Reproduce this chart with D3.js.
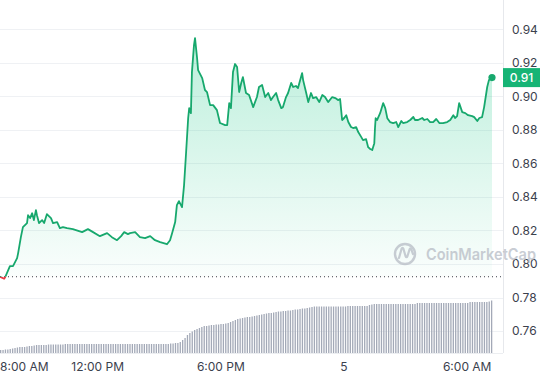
<!DOCTYPE html>
<html><head><meta charset="utf-8">
<script src="https://cdn.jsdelivr.net/npm/d3@7"></script>
<style>
html,body{margin:0;padding:0;background:#fff;}
svg{display:block;font-family:Inter,"Noto Sans",sans-serif;}
</style></head><body>
<svg id="chart" width="545" height="380"></svg>
<script>
// ---- data ----
const priceTimes = ["07:16","07:28","07:31","07:45","07:54","08:06","08:09","08:17","08:23","08:35","08:38","08:44","08:50","08:55","09:01","09:04","09:10","09:19","09:25","09:33","09:45","09:51","10:03","10:11","10:20","10:32","10:49","11:16","11:33","11:48","12:08","12:29","12:43","12:58","13:10","13:19","13:30","13:36","13:51","14:05","14:20","14:35","14:49","15:04","15:24","15:33","15:39","15:48","15:53","15:59","16:08","16:14","16:20","16:26","16:29","16:34","16:37","16:43","16:46","16:52","16:55","17:07","17:15","17:21","17:30","17:39","17:50","17:59","18:14","18:20","18:26","18:31","18:37","18:43","18:49","18:55","19:01","19:06","19:15","19:24","19:36","19:47","19:53","20:02","20:11","20:20","20:28","20:34","20:43","20:49","20:58","21:03","21:12","21:18","21:27","21:33","21:41","21:47","21:59","22:02","22:11","22:17","22:25","22:31","22:40","22:49","22:58","23:06","23:15","23:27","23:36","23:44","23:50","23:56","00:02","00:08","00:14","00:22","00:28","00:37","00:43","00:52","00:57","01:06","01:12","01:18","01:24","01:30","01:32","01:34","01:38","01:47","01:56","02:02","02:08","02:16","02:25","02:34","02:40","02:49","02:54","03:06","03:15","03:24","03:29","03:38","03:50","03:56","04:05","04:13","04:22","04:31","04:40","04:51","05:03","05:12","05:21","05:26","05:32","05:38","05:47","05:56","06:04","06:16","06:22","06:31","06:37","06:45","06:51","07:00","07:05","07:11","07:14"];
const prices = [0.7924,0.7912,0.7921,0.7987,0.7987,0.8035,0.8065,0.8160,0.8220,0.8244,0.8291,0.8274,0.8303,0.8262,0.8321,0.8291,0.8244,0.8262,0.8244,0.8297,0.8274,0.8244,0.8250,0.8214,0.8220,0.8214,0.8208,0.8190,0.8208,0.8190,0.8166,0.8184,0.8160,0.8142,0.8166,0.8190,0.8178,0.8184,0.8190,0.8160,0.8154,0.8166,0.8142,0.8130,0.8118,0.8142,0.8184,0.8250,0.8351,0.8375,0.8339,0.8471,0.8668,0.8871,0.8930,0.8900,0.9145,0.9306,0.9348,0.9229,0.9157,0.9109,0.9038,0.9026,0.8948,0.8948,0.8918,0.8841,0.8829,0.8829,0.8960,0.8930,0.9145,0.9193,0.9175,0.9026,0.9080,0.9115,0.9020,0.9008,0.8936,0.8996,0.9056,0.9068,0.8996,0.9020,0.8978,0.8996,0.9020,0.8978,0.8930,0.8936,0.8996,0.9020,0.9080,0.9056,0.9062,0.9050,0.9139,0.9097,0.9020,0.8966,0.9020,0.8990,0.8996,0.8966,0.9008,0.8996,0.8966,0.8996,0.8990,0.8978,0.8984,0.8859,0.8871,0.8888,0.8847,0.8817,0.8811,0.8817,0.8787,0.8757,0.8739,0.8745,0.8697,0.8686,0.8680,0.8721,0.8811,0.8870,0.8859,0.8900,0.8960,0.8930,0.8870,0.8847,0.8841,0.8847,0.8817,0.8853,0.8841,0.8847,0.8859,0.8877,0.8859,0.8859,0.8871,0.8859,0.8865,0.8847,0.8847,0.8865,0.8841,0.8841,0.8847,0.8859,0.8888,0.8871,0.8882,0.8960,0.8906,0.8900,0.8888,0.8882,0.8876,0.8853,0.8871,0.8876,0.8936,0.9056,0.9097,0.9109,0.9112];
const volumeStart = "07:16";
const volumeIntervalMin = 7;
const volumes = [6,6,7,7,8,9,10,11,12,12,12,13,14,14,15,16,16,16,16,16,17,17,17,17,17,17,17,18,
18,18,18,18,18,18,18,18,18,18,18,18,18,18,18,18,18,18,18,18,18,18,18,18,18,18,18,18,18,18,18,18,18,18,18,18,18,18,18,18,18,18,18,
19,19,20,20,22,26,30,36,40,43,46,48,50,52,54,54,55,56,56,57,57,58,58,59,60,62,64,66,68,69,70,71,72,72,73,74,75,76,77,78,79,80,80,81,82,83,83,84,84,85,85,86,87,87,88,89,89,90,91,92,93,
93,93,93,93,93,93,93,93,93,93,93,93,93,
94,94,94,94,94,94,94,94,94,
96,97,
98,98,98,98,98,98,98,98,98,98,98,98,98,98,98,98,98,98,
100,100,100,100,100,100,100,100,100,100,100,100,100,100,100,100,100,100,100,100,100,100,
102,102,102,102,102,102,102,102,
103,105];
const yTicks = [0.76,0.78,0.80,0.82,0.84,0.86,0.88,0.90,0.92,0.94];
const xTickTimes = ["08:00","12:00","18:00","00:00","06:00"];
const xTickLabels = ["8:00 AM","12:00 PM","6:00 PM","5","6:00 AM"];
const lastLabel = "0.91";

// ---- helpers ----
const day1 = "2024-03-04", day2 = "2024-03-05";
const parse = d3.timeParse("%Y-%m-%d %H:%M");
function toDates(arr){
  let day = day1, prev = -1;
  return arr.map(s => { const [h,m] = s.split(":").map(Number); const t = h*60+m;
    if (t < prev) day = day2; prev = t; return parse(day+" "+s); });
}
const tDates = toDates(priceTimes);
const data = tDates.map((t,i)=>({t, p: prices[i]}));
const tickDates = toDates(["07:16"].concat(xTickTimes)).slice(1);
const vStart = parse(day1+" "+volumeStart);
const vData = volumes.map((v,i)=>({t: d3.timeMinute.offset(vStart, i*volumeIntervalMin), v}));

// ---- layout ----
const svg = d3.select("#chart");
const plotRight = 503, plotBottom = 353;
const x = d3.scaleTime().domain([tDates[0], tDates[tDates.length-1]]).range([0, 492]);
const y = d3.scaleLinear().domain([0.7469, 0.9575]).range([plotBottom, 0]);
const yVol = d3.scaleLinear().domain([0, 120]).range([plotBottom, 293]);
const base = prices[0];
const yBase = y(base);
const green = "#17a86d", red = "#ea3943";

const defs = svg.append("defs");
const grad = defs.append("linearGradient").attr("id","gfill").attr("gradientUnits","userSpaceOnUse")
  .attr("x1",0).attr("x2",0).attr("y1",y(0.94)).attr("y2",yBase);
grad.append("stop").attr("offset",0).attr("stop-color","#16c784").attr("stop-opacity",0.30);
grad.append("stop").attr("offset",1).attr("stop-color","#16c784").attr("stop-opacity",0.02);
defs.append("clipPath").attr("id","above").append("rect").attr("x",-5).attr("y",-5).attr("width",plotRight+5).attr("height",yBase+5);
defs.append("clipPath").attr("id","below").append("rect").attr("x",-5).attr("y",yBase).attr("width",plotRight+5).attr("height",plotBottom-yBase);

// grid
svg.append("g").selectAll("line").data(yTicks).join("line")
  .attr("x1",0).attr("x2",plotRight).attr("y1",d=>Math.round(y(d))+0.5).attr("y2",d=>Math.round(y(d))+0.5)
  .attr("stroke","#eff1f4").attr("stroke-width",1);

// volume bars
svg.append("g").selectAll("rect").data(vData).join("rect")
  .attr("x",d=>x(d.t)).attr("width",1.3)
  .attr("y",d=>yVol(d.v)).attr("height",d=>plotBottom-yVol(d.v))
  .attr("fill","#a3a9b7");

// areas
const area = d3.area().x(d=>x(d.t)).y0(yBase).y1(d=>y(d.p));
svg.append("path").datum(data).attr("d",area).attr("fill","url(#gfill)").attr("clip-path","url(#above)");
svg.append("path").datum(data).attr("d",area).attr("fill",red).attr("fill-opacity",0.08).attr("clip-path","url(#below)");

// baseline dotted
svg.append("line").attr("x1",0).attr("x2",plotRight).attr("y1",yBase).attr("y2",yBase)
  .attr("stroke","#3a3f48").attr("stroke-width",1).attr("stroke-dasharray","1,3");

// lines
const line = d3.line().x(d=>x(d.t)).y(d=>y(d.p));
svg.append("path").datum(data).attr("d",line).attr("fill","none").attr("stroke",green).attr("stroke-width",1.8)
  .attr("stroke-linejoin","round").attr("clip-path","url(#above)");
svg.append("path").datum(data).attr("d",line).attr("fill","none").attr("stroke",red).attr("stroke-width",1.8)
  .attr("stroke-linejoin","round").attr("clip-path","url(#below)");
const last = data[data.length-1];
svg.append("circle").attr("cx",x(last.t)).attr("cy",y(last.p)).attr("r",3.6).attr("fill",green);

// frame lines
svg.append("line").attr("x1",plotRight+0.5).attr("x2",plotRight+0.5).attr("y1",0).attr("y2",plotBottom)
  .attr("stroke","#e6e8ec");
svg.append("line").attr("x1",0).attr("x2",plotRight).attr("y1",plotBottom+0.5).attr("y2",plotBottom+0.5)
  .attr("stroke","#eceef1");

// y axis
const yAxis = d3.axisRight(y).tickValues(yTicks).tickSize(0).tickPadding(9).tickFormat(d3.format(".2f"));
const gy = svg.append("g").attr("transform",`translate(${plotRight},0)`).call(yAxis);
gy.select(".domain").remove();
gy.selectAll("text").attr("fill","#3b414d").attr("font-size",12).attr("font-family","Inter,'Noto Sans',sans-serif");

// x axis
const xAxis = d3.axisBottom(x).tickValues(tickDates).tickSize(0).tickPadding(9)
  .tickFormat((d,i)=>xTickLabels[i]);
const gx = svg.append("g").attr("transform",`translate(0,${plotBottom})`).call(xAxis);
gx.select(".domain").remove();
gx.selectAll("text").attr("fill","#3b414d").attr("font-size",12).attr("font-family","Inter,'Noto Sans',sans-serif");
gx.selectAll(".tick").each(function(){
  const t = d3.select(this).select("text"); const bb = this.getBBox();
  const tr = d3.select(this).attr("transform"); const tx = +tr.match(/translate\(([-\d.]+)/)[1];
  if (tx + bb.x < 0) t.attr("text-anchor","start").attr("x", -tx);
});

// last price badge
const bg = svg.append("g");
bg.append("rect").attr("x",plotRight).attr("y",y(last.p)-9.5).attr("width",37).attr("height",19).attr("fill","#16b475");
bg.append("text").attr("x",plotRight+18.5).attr("y",y(last.p)+4).attr("text-anchor","middle")
  .attr("fill","#fff").attr("font-size",12).attr("font-weight",500).text(lastLabel);

// watermark
const wm = svg.append("g").attr("opacity",0.7);
wm.append("circle").attr("cx",405).attr("cy",254).attr("r",10).attr("fill","none").attr("stroke","#b3b8c2").attr("stroke-width",2.4);
wm.append("path").attr("d","M399,258 L401.5,249 Q402.5,246.5 403.5,249 L405.5,256 Q406.5,258.5 407.5,256 L409.5,249.5 Q410.5,247 411.5,250 L413,254")
  .attr("fill","none").attr("stroke","#b3b8c2").attr("stroke-width",2.2).attr("stroke-linecap","round");
wm.append("text").attr("x",426).attr("y",260).attr("fill","#b3b8c2").attr("font-size",16).attr("font-weight",600)
  .attr("textLength",110).attr("lengthAdjust","spacingAndGlyphs")
  .text("CoinMarketCap");
</script>
</body></html>
